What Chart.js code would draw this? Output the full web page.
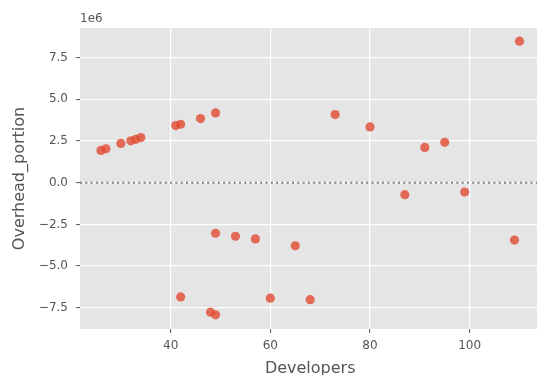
<!DOCTYPE html>
<html>
<head>
<meta charset="utf-8">
<script src="https://cdn.jsdelivr.net/npm/chart.js@4"></script>
<style>
  html, body { margin: 0; padding: 0; background: #fff; }
  #wrap { width: 537px; height: 375px; overflow: hidden; position: relative; }
  #box { width: 545px; height: 380px; }
</style>
</head>
<body>
<div id="wrap"><div id="box"><canvas id="chart"></canvas></div></div>
<script>
'use strict';

// valores
const developers = [26, 27, 30, 32, 33, 34, 41, 42, 46, 49, 73, 80, 91, 95, 110,
                    87, 99, 109, 49, 53, 57, 65, 42, 48, 49, 60, 68];
const overhead = [1.93e6, 2.03e6, 2.35e6, 2.51e6, 2.60e6, 2.70e6, 3.42e6, 3.50e6, 3.84e6, 4.18e6,
                  4.08e6, 3.34e6, 2.11e6, 2.42e6, 8.48e6,
                  -0.72e6, -0.56e6, -3.44e6, -3.03e6, -3.21e6, -3.37e6, -3.78e6,
                  -6.85e6, -7.76e6, -7.92e6, -6.92e6, -7.01e6];
const xTicks = [40, 60, 80, 100];
const yTicks = [-7.5e6, -5e6, -2.5e6, 0, 2.5e6, 5e6, 7.5e6];

const TXT = '#555555';
const FONT = "'DejaVu Sans', sans-serif";

// línea punteada en y = 0 y el "1e6" del eje
const extras = {
  id: 'extras',
  beforeDatasetsDraw(chart) {
    const { ctx, chartArea: a, scales: { y } } = chart;
    const py = y.getPixelForValue(0);
    ctx.save();
    ctx.strokeStyle = '#808080';
    ctx.lineWidth = 2;
    ctx.setLineDash([2, 3.3]);
    ctx.beginPath();
    ctx.moveTo(a.left, py);
    ctx.lineTo(a.right, py);
    ctx.stroke();
    ctx.restore();
  },
  afterDraw(chart) {
    const { ctx, chartArea: a } = chart;
    ctx.save();
    ctx.fillStyle = TXT;
    ctx.font = `12px ${FONT}`;
    ctx.textAlign = 'left';
    ctx.textBaseline = 'alphabetic';
    ctx.fillText('1e6', a.left, a.top - 6);
    ctx.restore();
  }
};

new Chart(document.getElementById('chart'), {
  type: 'scatter',
  data: {
    datasets: [{
      data: developers.map((d, i) => ({ x: d, y: overhead[i] })),
      backgroundColor: 'rgba(226, 74, 51, 0.8)',
      borderWidth: 0,
      pointRadius: 4.6,
      pointHoverRadius: 4.6
    }]
  },
  options: {
    responsive: true,
    maintainAspectRatio: false,
    animation: false,
    events: [],
    layout: { padding: { top: 28, right: 2, left: 0, bottom: 0 } },
    plugins: { legend: { display: false }, tooltip: { enabled: false } },
    scales: {
      x: {
        type: 'linear',
        min: 21.8,
        max: 114.2,
        afterBuildTicks: (s) => { s.ticks = xTicks.map(v => ({ value: v })); },
        afterFit: (s) => { s.height = 51; },
        border: { display: false },
        grid: { color: '#ffffff', lineWidth: 1.2, tickColor: TXT, tickLength: 4, tickWidth: 1 },
        ticks: { color: TXT, font: { family: FONT, size: 12 }, padding: 6, maxRotation: 0 },
        title: { display: true, text: 'Developers', color: TXT, font: { family: FONT, size: 16 }, padding: { bottom: 2 } }
      },
      y: {
        type: 'linear',
        min: -8.77e6,
        max: 9.27e6,
        afterBuildTicks: (s) => { s.ticks = yTicks.map(v => ({ value: v })); },
        afterFit: (s) => { s.width = 80; },
        border: { display: false },
        grid: { color: '#ffffff', lineWidth: 1.2, tickColor: TXT, tickLength: 4, tickWidth: 1 },
        ticks: {
          color: TXT, font: { family: FONT, size: 12 }, padding: 8,
          callback: (v) => (v / 1e6).toFixed(1).replace('-', '\u2212')
        },
        title: { display: true, text: 'Overhead_portion', color: TXT, font: { family: FONT, size: 16 }, padding: { top: 10 } }
      }
    }
  },
  plugins: [extras, {
    id: 'bg',
    beforeDraw(chart) {
      const { ctx, chartArea: a } = chart;
      ctx.save();
      ctx.fillStyle = '#e5e5e5';
      ctx.fillRect(a.left, a.top, a.right - a.left, a.bottom - a.top);
      ctx.restore();
    }
  }]
});
</script>
</body>
</html>
